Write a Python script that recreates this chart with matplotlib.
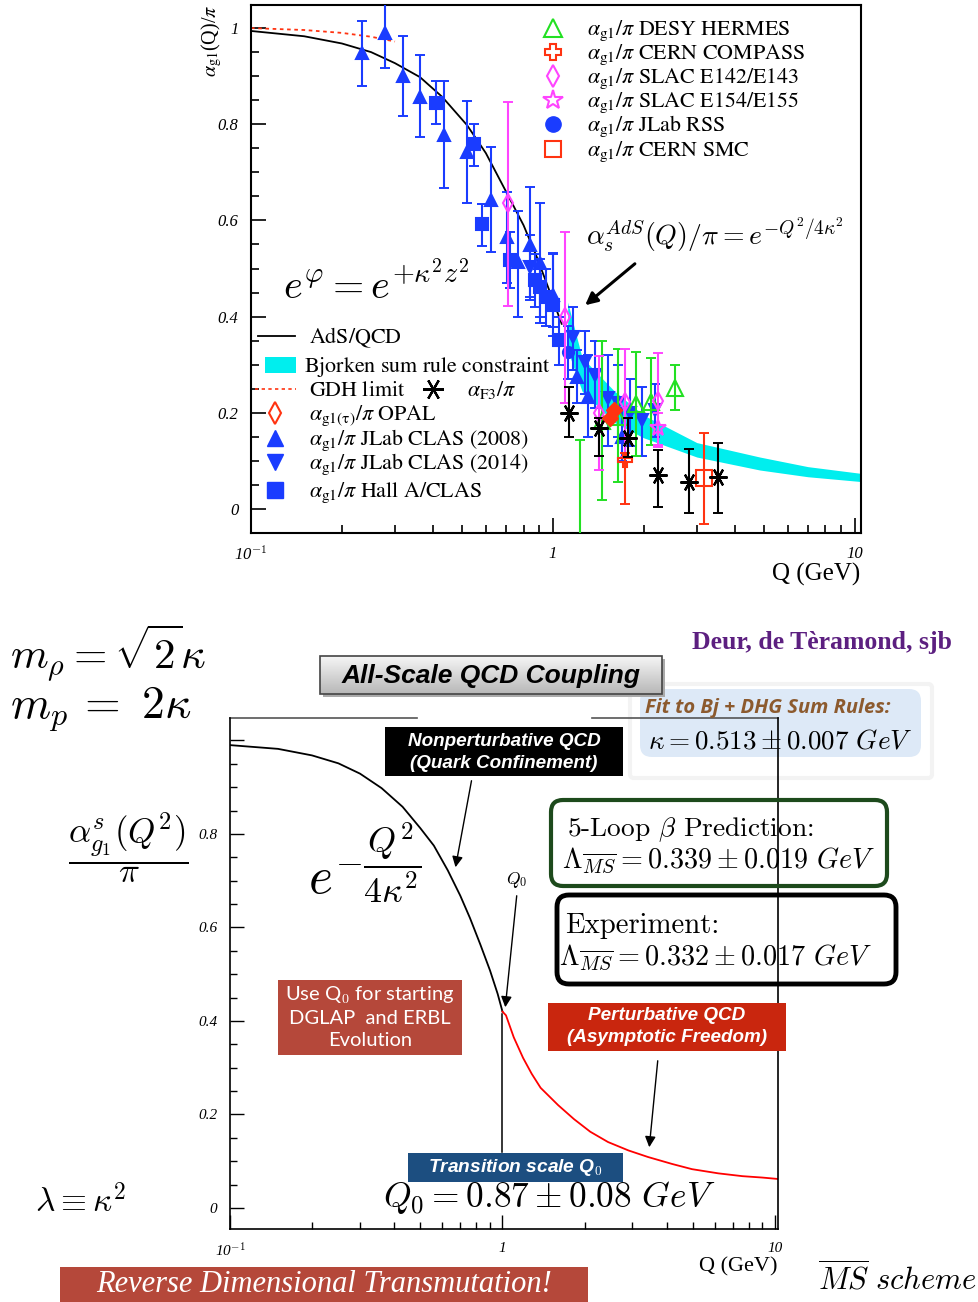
import numpy as np
import matplotlib
matplotlib.use('Agg')
import matplotlib.pyplot as plt
from matplotlib.lines import Line2D
from matplotlib.patches import Rectangle, FancyBboxPatch
from matplotlib.transforms import Affine2D

plt.rcParams['mathtext.fontset'] = 'cm'
plt.rcParams['font.family'] = ['Liberation Serif', 'DejaVu Serif']

# ---------------- top panel data (Q in GeV, alpha_g1/pi) ----------------
ads_q = [0.1, 0.15, 0.2, 0.25, 0.3, 0.363, 0.43, 0.52, 0.6, 0.704, 0.8, 0.885, 0.977, 1.07]
ads_v = [0.994, 0.983, 0.968, 0.950, 0.927, 0.898, 0.857, 0.798, 0.740, 0.657, 0.590, 0.524, 0.452, 0.385]

gdh_q = [0.1, 0.15, 0.2, 0.25, 0.3]
gdh_v = [1.0, 0.996, 0.99, 0.982, 0.972]

bj_q = [1.12, 1.25, 1.6, 2.0, 3.0, 4.85, 7.0, 10.5]
bj_lo = [0.33, 0.245, 0.18, 0.148, 0.108, 0.081, 0.067, 0.057]
bj_hi = [0.43, 0.315, 0.245, 0.195, 0.138, 0.108, 0.088, 0.074]

clas08_q = [0.233, 0.278, 0.318, 0.363, 0.436, 0.519, 0.623, 0.704, 0.766, 0.839, 0.905, 1.0, 1.2, 1.31, 1.70]
clas08_v = [0.948, 0.990, 0.900, 0.857, 0.778, 0.742, 0.642, 0.566, 0.514, 0.549, 0.511, 0.445, 0.275, 0.233, 0.150]
clas08_lo = [0.879, 0.917, 0.817, 0.773, 0.667, 0.636, 0.534, 0.47, 0.40, 0.434, 0.387, 0.36, 0.22, 0.15, 0.10]
clas08_hi = [1.015, 1.06, 0.983, 0.944, 0.89, 0.848, 0.753, 0.66, 0.62, 0.67, 0.636, 0.53, 0.33, 0.32, 0.21]

clas14_q = [0.839, 1.17, 1.28, 1.38, 1.52, 1.64, 1.80, 1.97, 2.18]
clas14_v = [0.503, 0.357, 0.306, 0.279, 0.230, 0.220, 0.200, 0.185, 0.206]
clas14_lo = [0.44, 0.29, 0.24, 0.21, 0.13, 0.15, 0.13, 0.11, 0.15]
clas14_hi = [0.57, 0.42, 0.37, 0.35, 0.32, 0.30, 0.27, 0.254, 0.26]

halla_q = [0.41, 0.547, 0.582, 0.72, 0.87, 0.905, 0.95, 1.0, 1.047]
halla_v = [0.844, 0.759, 0.592, 0.518, 0.476, 0.462, 0.44, 0.424, 0.351]
halla_lo = [0.80, 0.713, 0.547, 0.46, 0.42, 0.40, 0.38, 0.378, 0.30]
halla_hi = [0.89, 0.80, 0.634, 0.576, 0.53, 0.52, 0.50, 0.532, 0.40]

rss_q = [1.12]
rss_v = [0.326]
rss_lo = [0.27]
rss_hi = [0.38]

hermes_q = [1.23, 1.46, 1.64, 1.88, 2.11, 2.55]
hermes_v = [-0.15, 0.183, 0.191, 0.218, 0.222, 0.251]
hermes_lo = [-0.45, 0.019, 0.056, 0.11, 0.133, 0.206]
hermes_hi = [0.143, 0.35, 0.333, 0.326, 0.314, 0.30]

compass_q = [1.74]
compass_v = [0.102]
compass_lo = [0.01]
compass_hi = [0.116]

e143_q = [0.71, 1.10, 1.42, 1.74, 2.23]
e143_v = [0.636, 0.40, 0.20, 0.222, 0.225]
e143_lo = [0.422, 0.22, 0.081, 0.108, 0.129]
e143_hi = [0.846, 0.576, 0.318, 0.333, 0.324]

e155_q = [2.23]
e155_v = [0.168]
e155_lo = [0.133]
e155_hi = [0.20]

opal_q = [1.55, 1.60]
opal_v = [0.19, 0.205]

smc_q = [3.16]
smc_v = [0.064]
smc_lo = [-0.031]
smc_hi = [0.158]

f3_q = [1.13, 1.42, 1.77, 2.23, 2.82, 3.54]
f3_v = [0.20, 0.168, 0.148, 0.071, 0.056, 0.066]
f3_lo = [0.15, 0.11, 0.108, 0.004, -0.008, -0.008]
f3_hi = [0.254, 0.19, 0.19, 0.123, 0.125, 0.137]

# ---------------- bottom panel data ----------------
np_q = [0.1, 0.15, 0.2, 0.25, 0.3, 0.36, 0.43, 0.5, 0.56, 0.63, 0.7, 0.76, 0.83, 0.9, 0.96, 1.0]
np_v = [0.99, 0.982, 0.968, 0.951, 0.929, 0.898, 0.858, 0.812, 0.775, 0.722, 0.668, 0.62, 0.563, 0.508, 0.458, 0.42]
pert_q = [1.0, 1.03, 1.1, 1.19, 1.28, 1.38, 1.6, 1.83, 2.1, 2.44, 2.9, 3.42, 4.2, 4.96, 6.2, 7.6, 9.0, 10.26]
pert_v = [0.42, 0.412, 0.365, 0.321, 0.287, 0.257, 0.220, 0.19, 0.163, 0.141, 0.123, 0.109, 0.094, 0.083, 0.074, 0.068, 0.065, 0.062]
q_transition = 1.0
transition_span = [0.12, 0.415]

blue = '#1a3cff'
green = '#22e022'
magenta = '#ff44ff'
red = '#ff3311'
cyan = '#00eeee'

W, H = 979, 1302
fig = plt.figure(figsize=(W / 100, H / 100), dpi=100)
pix = Affine2D().scale(1.0 / W, -1.0 / H).translate(0, 1) + fig.transFigure

# ================= top panel =================
ax1 = fig.add_axes([251 / W, 1 - 533 / H, (861 - 251) / W, (533 - 5) / H])
ax1.set_xscale('log')
ax1.set_xlim(0.1, 10.5)
ax1.set_ylim(-0.05, 1.048)

ax1.fill_between(bj_q, bj_lo, bj_hi, color=cyan, lw=0, zorder=1)
ax1.plot(ads_q, ads_v, color='k', lw=1.3, zorder=2)
ax1.plot(gdh_q, gdh_v, color=red, lw=1.3, ls=(0, (2, 2)), zorder=2)


def draw_set(q, v, lo, hi, marker, color, filled=True, ms=9, mew=1.5):
    v = np.array(v)
    err = [v - np.array(lo), np.array(hi) - v]
    ax1.errorbar(q, v, yerr=err, fmt='none', ecolor=color,
                 elinewidth=1.5, capsize=3.6, capthick=1.4, zorder=3)
    ax1.plot(q, v, ls='none', marker=marker, ms=ms, mfc=color if filled else 'none',
             mec=color, mew=mew, zorder=3)


draw_set(clas08_q, clas08_v, clas08_lo, clas08_hi, '^', blue)
draw_set(halla_q, halla_v, halla_lo, halla_hi, 's', blue, ms=8)
draw_set(clas14_q, clas14_v, clas14_lo, clas14_hi, 'v', blue)
draw_set(rss_q, rss_v, rss_lo, rss_hi, 'o', blue, ms=8)
draw_set(hermes_q, hermes_v, hermes_lo, hermes_hi, '^', green, filled=False, ms=11)
draw_set(e143_q, e143_v, e143_lo, e143_hi, 'd', magenta, filled=False, ms=9)
draw_set(e155_q, e155_v, e155_lo, e155_hi, '*', magenta, filled=False, ms=12)
draw_set(compass_q, compass_v, compass_lo, compass_hi, 'P', red, filled=False, ms=10)
draw_set(smc_q, smc_v, smc_lo, smc_hi, 's', red, filled=False, ms=11)
draw_set(f3_q, f3_v, f3_lo, f3_hi, (6, 2, 90), 'k', ms=13, mew=1.6)
ax1.plot(opal_q, opal_v, 'D', color=red, ms=8, zorder=4)

ax1.set_yticks([0, 0.2, 0.4, 0.6, 0.8, 1.0], labels=['0', '0.2', '0.4', '0.6', '0.8', '1'])
ax1.set_yticks(np.arange(-0.05, 1.05, 0.05), minor=True)
ax1.set_xticks([0.1, 1, 10], labels=['10$^{-1}$', '1', '10'])
ax1.tick_params(which='both', direction='in', top=False, right=False, width=1.2)
ax1.tick_params(which='major', length=11, labelsize=12)
ax1.tick_params(which='minor', length=6)
ax1.tick_params(axis='y', pad=9)
ax1.tick_params(axis='x', pad=9)
for t in ax1.get_xticklabels() + ax1.get_yticklabels():
    t.set_fontstyle('italic')
for s in ax1.spines.values():
    s.set_linewidth(1.5)

# legend keys and labels, laid out row by row (Times-like STIX math)
LFS = 15.8


def legend_row(key, x_key, x_txt, y, label):
    if key is not None:
        fig.add_artist(Line2D([x_key], [y], ls='none', transform=pix, **key))
    fig.text(x_txt, y + 7, label, va='baseline', ha='left', fontsize=LFS,
             math_fontfamily='stix', transform=pix)


up_keys = [dict(marker='^', ms=13, mfc='none', mec=green, mew=1.5),
           dict(marker='P', ms=12, mfc='none', mec=red, mew=1.5),
           dict(marker='d', ms=11, mfc='none', mec=magenta, mew=1.5),
           dict(marker='*', ms=15, mfc='none', mec=magenta, mew=1.5),
           dict(marker='o', ms=11, mfc=blue, mec=blue),
           dict(marker='s', ms=12, mfc='none', mec=red, mew=1.5)]
up_labels = [r'$\alpha_{\rm g1}/\pi\ \mathrm{DESY\ HERMES}$',
             r'$\alpha_{\rm g1}/\pi\ \mathrm{CERN\ COMPASS}$',
             r'$\alpha_{\rm g1}/\pi\ \mathrm{SLAC\ E142/E143}$',
             r'$\alpha_{\rm g1}/\pi\ \mathrm{SLAC\ E154/E155}$',
             r'$\alpha_{\rm g1}/\pi\ \mathrm{JLab\ RSS}$',
             r'$\alpha_{\rm g1}/\pi\ \mathrm{CERN\ SMC}$']
up_rows = [28, 52, 76, 100, 124, 149]
for key, lab, yy in zip(up_keys, up_labels, up_rows):
    legend_row(key, 553, 587, yy, lab)

lo_rows = [336, 365, 389, 413, 438, 462, 490]
fig.add_artist(Line2D([258, 295], [lo_rows[0]] * 2, color='k', lw=1.3, transform=pix))
legend_row(None, 0, 309, lo_rows[0], r'$\mathrm{AdS/QCD}$')
fig.add_artist(Rectangle((265, lo_rows[1] - 8), 31, 16, fc=cyan, ec='none', transform=pix))
legend_row(None, 0, 304, lo_rows[1], r'$\mathrm{Bjorken\ sum\ rule\ constraint}$')
fig.add_artist(Line2D([255, 296], [lo_rows[2]] * 2, color=red, lw=1.2, ls=(0, (2, 2)),
                      transform=pix))
legend_row(None, 0, 309, lo_rows[2], r'$\mathrm{GDH\ limit}$')
legend_row(dict(marker=(6, 2, 90), ms=15, mec='k', mew=1.6), 433, 467, lo_rows[2],
           r'$\alpha_{\rm F3}/\pi$')
lo_keys = [dict(marker='d', ms=11, mfc='none', mec=red, mew=1.5),
           dict(marker='^', ms=12, mfc=blue, mec=blue),
           dict(marker='v', ms=12, mfc=blue, mec=blue),
           dict(marker='s', ms=11, mfc=blue, mec=blue)]
lo_labels = [r'$\alpha_{\rm g1(\tau)}/\pi\ \mathrm{OPAL}$',
             r'$\alpha_{\rm g1}/\pi\ \mathrm{JLab\ CLAS\ (2008)}$',
             r'$\alpha_{\rm g1}/\pi\ \mathrm{JLab\ CLAS\ (2014)}$',
             r'$\alpha_{\rm g1}/\pi\ \mathrm{Hall\ A/CLAS}$']
for key, lab, yy in zip(lo_keys, lo_labels, lo_rows[3:]):
    legend_row(key, 275, 309, yy, lab)

fig.text(212, 5, r'$\alpha_{\rm g1}$(Q)/$\pi$', rotation=90, ha='center', va='top',
         fontsize=14.5, math_fontfamily='stix', transform=pix)
fig.text(860, 574, 'Q (GeV)', ha='right', va='center', fontsize=18, transform=pix)
fig.text(283, 285, r'$e^{\varphi} = e^{+\kappa^2 z^2}$', ha='left', va='center',
         fontsize=29, transform=pix)
fig.text(586, 235, r'$\alpha_s^{AdS}(Q)/\pi = e^{-Q^2/4\kappa^2}$', ha='left', va='center',
         fontsize=20, transform=pix)
ax1.annotate('', xy=(583, 307), xytext=(637, 262), xycoords=pix, textcoords=pix,
             arrowprops=dict(arrowstyle='-|>', color='k', lw=2.2, mutation_scale=18))

# ================= bottom panel =================
ax2 = fig.add_axes([230 / W, 1 - 1229 / H, (778 - 230) / W, (1229 - 718) / H])
ax2.patch.set_visible(False)
ax2.set_xscale('log')
ax2.set_xlim(0.1, 10.26)
ax2.set_ylim(-0.045, 1.048)
ax2.plot(np_q, np_v, color='k', lw=1.3)
ax2.plot(pert_q, pert_v, color='red', lw=1.3)
ax2.plot([q_transition, q_transition], transition_span, color='k', lw=1.1)

ax2.set_yticks([0, 0.2, 0.4, 0.6, 0.8, 1.0], labels=['0', '0.2', '0.4', '0.6', '0.8', ''])
ax2.set_yticks(np.arange(0.05, 1.04, 0.05), minor=True)
ax2.set_xticks([0.1, 1, 10], labels=['10$^{-1}$', '1', '10'])
ax2.tick_params(which='both', direction='in', top=False, right=False, width=1.0)
ax2.tick_params(which='major', length=10, labelsize=11)
ax2.tick_params(which='minor', length=5)
ax2.tick_params(axis='y', pad=9)
ax2.tick_params(axis='x', pad=9)
for t in ax2.get_xticklabels() + ax2.get_yticklabels():
    t.set_fontstyle('italic')
ax2.spines['top'].set_visible(False)
ax2.plot([0, (417 - 230) / 548], [1, 1], color='#555555', lw=1.2,
         transform=ax2.transAxes, clip_on=False)
ax2.plot([(592 - 230) / 548, 1], [1, 1], color='#555555', lw=1.2,
         transform=ax2.transAxes, clip_on=False)
for k in ['left', 'bottom', 'right']:
    ax2.spines[k].set_linewidth(1.2)

# boxes
fig.add_artist(FancyBboxPatch((630, 684), 302, 94, boxstyle='round,pad=0,rounding_size=4',
                              fc='white', ec='#f3f3f3', lw=3, transform=pix, zorder=-2))
fig.add_artist(FancyBboxPatch((640, 689), 281, 68, boxstyle='round,pad=0,rounding_size=12',
                              fc='#dde9f7', ec='none', transform=pix, zorder=-1))
# title box: grey gradient with a drop shadow
fig.add_artist(Rectangle((323, 659), 342, 38, fc='#aaaaaa', ec='none', transform=pix, zorder=-1))
gax = fig.add_axes([320 / W, 1 - 694 / H, 342 / W, 38 / H])
gax.imshow(np.linspace(0.96, 0.72, 40)[:, None], cmap='gray', vmin=0, vmax=1, aspect='auto')
gax.set_axis_off()
fig.add_artist(Rectangle((320, 656), 342, 38, fc='none', ec='#444444', lw=1.2,
                         transform=pix, zorder=1))
fig.add_artist(Rectangle((385, 727), 238, 49, fc='black', ec='none', transform=pix, zorder=1))
fig.add_artist(Rectangle((278, 980), 184, 75, fc='#b5483a', ec='none', transform=pix, zorder=1))
fig.add_artist(Rectangle((548, 1003), 238, 48, fc='#c9260e', ec='none', transform=pix, zorder=1))
fig.add_artist(Rectangle((408, 1153), 215, 29, fc='#1c4e80', ec='none', transform=pix, zorder=1))
fig.add_artist(Rectangle((60, 1267), 528, 40, fc='#b5483a', ec='none', transform=pix, zorder=1))
fig.add_artist(FancyBboxPatch((551, 800), 336, 86, boxstyle='round,pad=0,rounding_size=12',
                              fc='none', ec='#1d4a1c', lw=3, transform=pix, zorder=1))
fig.add_artist(FancyBboxPatch((557, 895), 339, 89, boxstyle='round,pad=0,rounding_size=12',
                              fc='none', ec='black', lw=3.5, transform=pix, zorder=1))

sans = 'Liberation Sans'
fig.text(491, 676, 'All-Scale QCD Coupling', ha='center', va='center', fontsize=19,
         family=sans, weight='bold', style='italic', transform=pix)
fig.text(504, 741, 'Nonperturbative QCD', ha='center', va='center', fontsize=13.6,
         family=sans, weight='bold', style='italic', color='white', transform=pix)
fig.text(504, 763, '(Quark Confinement)', ha='center', va='center', fontsize=13.6,
         family=sans, weight='bold', style='italic', color='white', transform=pix)
fig.text(667, 1016, 'Perturbative QCD', ha='center', va='center', fontsize=13.6,
         family=sans, weight='bold', style='italic', color='white', transform=pix)
fig.text(667, 1038, '(Asymptotic Freedom)', ha='center', va='center', fontsize=13.6,
         family=sans, weight='bold', style='italic', color='white', transform=pix)
fig.text(515, 1167, r'Transition scale Q$_0$', ha='center', va='center', fontsize=13.8,
         family=sans, weight='bold', style='italic', color='white', transform=pix)
for txt, yy in [(r'Use Q$_0$ for starting', 995), ('DGLAP  and ERBL', 1018), ('Evolution', 1041)]:
    fig.text(370, yy, txt, ha='center', va='center', fontsize=14.5, family='Lato',
             color='white', transform=pix)
fig.text(324, 1285, 'Reverse Dimensional Transmutation!', ha='center', va='center',
         fontsize=22, style='italic', color='white', transform=pix)
fig.text(768, 708, 'Fit to Bj + DHG Sum Rules:', ha='center', va='center', fontsize=14.5,
         family='Open Sans', weight='bold', style='italic', color='#8c5a2e', transform=pix)
fig.text(780, 742, r'$\kappa = 0.513 \pm 0.007\ GeV$', ha='center', va='center',
         fontsize=19.5, transform=pix)
fig.text(567, 830, r'5-Loop $\beta$ Prediction:', ha='left', va='center', fontsize=19.7,
         family='cmr10', transform=pix)
fig.text(562, 860, r'$\Lambda_{\overline{MS}} = 0.339 \pm 0.019\ GeV$', ha='left',
         va='center', fontsize=20.3, transform=pix)
fig.text(565, 926, 'Experiment:', ha='left', va='center', fontsize=20.7, family='cmr10',
         transform=pix)
fig.text(559, 957, r'$\Lambda_{\overline{MS}} = 0.332 \pm 0.017\ GeV$', ha='left',
         va='center', fontsize=20.3, transform=pix)
fig.text(952, 642, 'Deur, de Tèramond, sjb', ha='right', va='center', fontsize=18.5,
         weight='bold', color='#5c1f80', transform=pix)
fig.text(10, 653, r'$m_\rho = \sqrt{2}\kappa$', ha='left', va='center', fontsize=31,
         transform=pix)
fig.text(10, 709, r'$m_p\,=\,\,2\kappa$', ha='left', va='center', fontsize=33,
         transform=pix)
fig.text(128, 848, r'$\dfrac{\alpha^s_{g_1}(Q^2)}{\pi}$', ha='center', va='center',
         fontsize=25, transform=pix)
fig.text(308, 862, r'$e^{-\dfrac{Q^2}{4\kappa^2}}$', ha='left', va='center', fontsize=37,
         transform=pix)
fig.text(517, 880, r'$Q_0$', ha='center', va='center', fontsize=12.5, transform=pix)
fig.text(549, 1198, r'$Q_0 = 0.87 \pm 0.08\ GeV$', ha='center', va='center', fontsize=25.5,
         transform=pix)
fig.text(35, 1202, r'$\lambda \equiv \kappa^2$', ha='left', va='center', fontsize=24,
         transform=pix)
fig.text(778, 1267, 'Q (GeV)', ha='right', va='center', fontsize=16, transform=pix)
fig.text(818, 1280, r'$\overline{MS}\ scheme$', ha='left', va='center', fontsize=22,
         transform=pix)

arrow = dict(arrowstyle='-|>', color='k', lw=1.0, mutation_scale=16)
ax2.annotate('', xy=(455, 870), xytext=(472, 778), xycoords=pix, textcoords=pix, arrowprops=arrow)
ax2.annotate('', xy=(505, 1010), xytext=(517, 893), xycoords=pix, textcoords=pix, arrowprops=arrow)
ax2.annotate('', xy=(649, 1150), xytext=(658, 1058), xycoords=pix, textcoords=pix, arrowprops=arrow)

fig.savefig('out.png', dpi=100)
